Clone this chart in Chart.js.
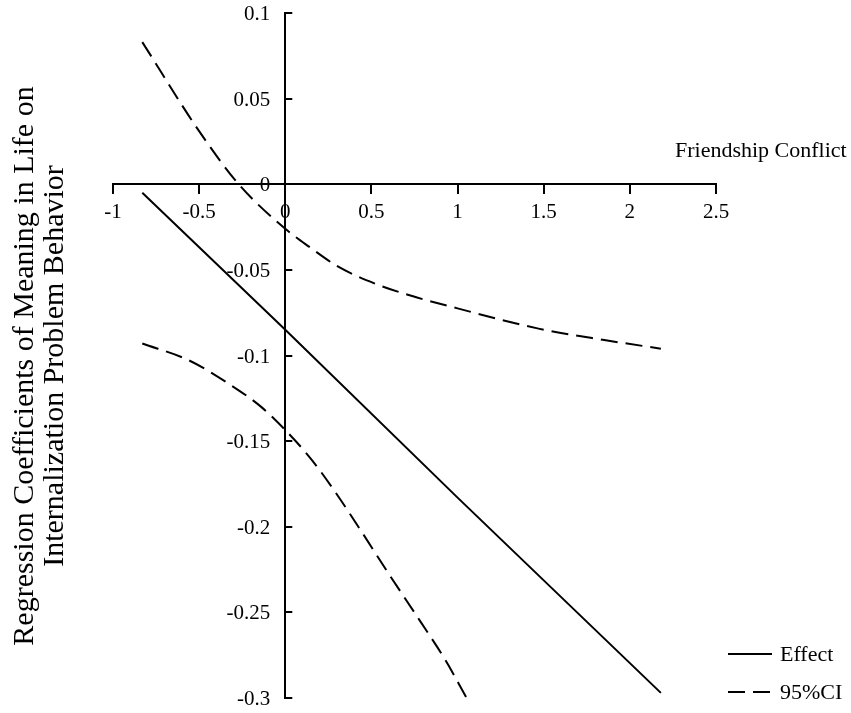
<!DOCTYPE html>
<html>
<head>
<meta charset="utf-8">
<script src="https://cdn.jsdelivr.net/npm/chart.js@4/dist/chart.umd.min.js"></script>
<style>
  html, body { margin: 0; padding: 0; background: #fff; }
  #wrap { width: 851px; height: 713px; position: relative; }
</style>
</head>
<body>
<div id="wrap"><canvas id="jnChart"></canvas></div>
<script>
// values
const effectX = [-0.83, 0, 1, 2.18];
const effectY = [-0.005, -0.085, -0.183, -0.297];

const upperX = [-0.83, -0.5, -0.27, 0, 0.14, 0.31, 0.52, 0.76, 1.0, 1.47, 1.86, 2.18];
const upperY = [0.083, 0.031, 0.0, -0.026, -0.0366, -0.0483, -0.058, -0.066, -0.0725, -0.0843, -0.0911, -0.096];

const lowerX = [-0.83, -0.56, -0.33, -0.14, 0, 0.15, 0.29, 0.45, 0.6, 0.78, 0.93, 1.05];
const lowerY = [-0.093, -0.1028, -0.1164, -0.130, -0.1435, -0.1605, -0.1797, -0.204, -0.2274, -0.2547, -0.278, -0.2995];

const xTitle = 'Friendship Conflict';
const yTitle = ['Regression Coefficients of Meaning in Life on', 'Internalization Problem Behavior'];
const legendItems = ['Effect', '95%CI'];

const FONT = '"Liberation Serif", "Times New Roman", serif';

function toPoints(xs, ys) {
  return xs.map((x, i) => ({ x: x, y: ys[i] }));
}

function fmt(v) {
  return String(Math.round(v * 100) / 100);
}

// extra drawing: y ticks (marks right, labels left), axis titles and the legend
const decorations = {
  id: 'decorations',
  afterDraw(chart) {
    const ctx = chart.ctx;
    const xs = chart.scales.x, ys = chart.scales.y;
    const x0 = xs.getPixelForValue(0);

    ctx.save();
    ctx.strokeStyle = '#000';
    ctx.fillStyle = '#000';
    ctx.lineWidth = 2;
    ctx.font = '21px ' + FONT;
    ctx.textAlign = 'right';
    ctx.textBaseline = 'middle';
    ys.ticks.forEach(t => {
      const py = Math.round(ys.getPixelForValue(t.value));
      ctx.beginPath();
      ctx.moveTo(x0, py);
      ctx.lineTo(x0 + 7, py);
      ctx.stroke();
      ctx.fillText(fmt(t.value), x0 - 15, py + 1);
    });

    ctx.font = '22px ' + FONT;
    ctx.textAlign = 'left';
    ctx.textBaseline = 'alphabetic';
    ctx.fillText(xTitle, 675, 157);

    ctx.font = '30px ' + FONT;
    ctx.textAlign = 'center';
    yTitle.forEach((line, i) => {
      ctx.save();
      ctx.translate(33 + i * 30, 366);
      ctx.rotate(-Math.PI / 2);
      ctx.fillText(line, 0, 0);
      ctx.restore();
    });

    // legend
    const styles = [chart.data.datasets[0], chart.data.datasets[1]];
    ctx.font = '22px ' + FONT;
    ctx.textAlign = 'left';
    ctx.textBaseline = 'middle';
    legendItems.forEach((label, i) => {
      const y = 654 + i * 38;
      ctx.beginPath();
      ctx.setLineDash(styles[i].borderDash || []);
      ctx.lineWidth = 2;
      ctx.moveTo(728, y);
      ctx.lineTo(772, y);
      ctx.stroke();
      ctx.setLineDash([]);
      ctx.fillText(label, 780, y + 1);
    });
    ctx.restore();
  }
};

const ctx = document.getElementById('jnChart').getContext('2d');

new Chart(ctx, {
  type: 'line',
  data: {
    datasets: [
      {
        label: 'Effect',
        data: toPoints(effectX, effectY),
        borderColor: '#000',
        borderWidth: 2,
        pointRadius: 0
      },
      {
        label: '95%CI',
        data: toPoints(upperX, upperY),
        borderColor: '#000',
        borderWidth: 2,
        borderDash: [17, 8],
        cubicInterpolationMode: 'monotone',
        pointRadius: 0
      },
      {
        label: '95%CI lower',
        data: toPoints(lowerX, lowerY),
        borderColor: '#000',
        borderWidth: 2,
        borderDash: [17, 8],
        cubicInterpolationMode: 'monotone',
        pointRadius: 0
      }
    ]
  },
  options: {
    responsive: true,
    maintainAspectRatio: false,
    animation: false,
    layout: { padding: { left: 113, right: 135, top: 13, bottom: 15 } },
    scales: {
      x: {
        type: 'linear',
        position: { y: 0 },
        min: -1,
        max: 2.5,
        ticks: {
          stepSize: 0.5,
          color: '#000',
          padding: 7,
          maxRotation: 0,
          font: { family: FONT, size: 21 },
          callback: v => String(Math.round(v * 10) / 10)
        },
        grid: { drawOnChartArea: false, drawTicks: true, tickLength: 9, color: '#000', lineWidth: 2 },
        border: { display: true, color: '#000', width: 2 },
        afterFit: s => { s.height = 0; s.paddingLeft = 0; s.paddingRight = 0; }
      },
      y: {
        type: 'linear',
        position: { x: 0 },
        min: -0.3,
        max: 0.1,
        ticks: { stepSize: 0.05, display: false },
        grid: { drawOnChartArea: false, drawTicks: false },
        border: { display: true, color: '#000', width: 2 },
        afterFit: s => { s.width = 0; s.paddingTop = 0; s.paddingBottom = 0; }
      }
    },
    plugins: {
      legend: { display: false },
      tooltip: { enabled: false }
    }
  },
  plugins: [decorations]
});
</script>
</body>
</html>
